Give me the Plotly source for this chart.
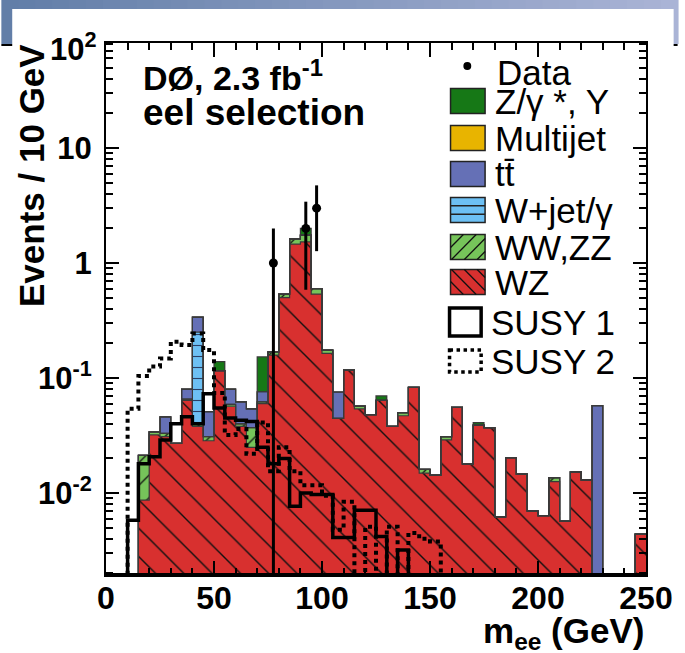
import numpy as np
import plotly.graph_objects as go

# ---------------- data (events per 5 GeV bin, 0-250 GeV) ----------------
bin_edges = np.arange(0, 255, 5)
wz = [0, 0, 0, 0.0087, 0.032, 0.031, 0.027, 0.064, 0.038, 0.0285,
      0.116, 0.057, 0.038, 0.025, 0.060, 0.158, 0.50, 1.46, 1.53, 0.537,
      0.164, 0.0446, 0.117, 0.054, 0.048, 0.064, 0.038, 0.047, 0.083, 0.0149,
      0.0143, 0.029, 0.0556, 0.0179, 0.039, 0.037, 0.0062, 0.0203, 0.0146, 0.0070,
      0.00635, 0.0126, 0.0057, 0.0153, 0.013, 0, 0, 0, 0, 0.0044]
ww_zz = [0, 0, 0, 0.0126, 0.002, 0.002, 0, 0.0015, 0.003, 0.0025,
         0, 0.002, 0.002, 0.012, 0.002, 0.011, 0.037, 0.16, 0.22, 0.063,
         0.011, 0, 0, 0.003, 0, 0, 0, 0.003, 0, 0.0012,
         0, 0.002, 0, 0, 0, 0, 0, 0, 0, 0,
         0, 0.001, 0, 0, 0, 0, 0, 0, 0, 0]
w_jet = [0, 0, 0, 0, 0, 0, 0, 0, 0.21, 0,
         0, 0, 0, 0, 0, 0, 0, 0, 0, 0,
         0, 0, 0, 0, 0, 0, 0, 0, 0, 0,
         0, 0, 0, 0, 0, 0, 0, 0, 0, 0,
         0, 0, 0, 0, 0, 0, 0, 0, 0, 0]
ttbar = [0, 0, 0, 0, 0, 0.013, 0, 0.0145, 0.087, 0.02,
         0, 0.021, 0.022, 0.017, 0.014, 0, 0, 0, 0, 0,
         0, 0.031, 0, 0, 0, 0, 0, 0, 0, 0,
         0, 0, 0, 0, 0, 0, 0, 0, 0, 0,
         0, 0, 0, 0, 0, 0.0575, 0, 0, 0, 0]
multijet = [0] * 50
z_gamma = [0, 0, 0, 0, 0, 0, 0, 0, 0, 0,
           0.023, 0, 0, 0, 0.077, 0, 0, 0, 0.25, 0,
           0, 0, 0, 0, 0, 0.006, 0, 0, 0, 0,
           0, 0, 0, 0, 0.002, 0, 0, 0, 0, 0,
           0, 0, 0, 0, 0, 0, 0, 0, 0, 0]
susy1 = [0, 0, 0.0058, 0.018, 0.0207, 0.029, 0.040, 0.046, 0.040, 0.073,
         0.055, 0.045, 0.043, 0.042, 0.025, 0.018, 0.020, 0.0077, 0.010, 0.0097,
         0.0097, 0.0041, 0.0041, 0.0071, 0.0071, 0.0042, 0, 0.0032, 0, 0,
         0, 0, 0, 0, 0, 0, 0, 0, 0, 0,
         0, 0, 0, 0, 0, 0, 0, 0, 0, 0]
susy2 = [0, 0, 0.054, 0.104, 0.126, 0.148, 0.207, 0.194, 0.244, 0.175,
         0.074, 0.032, 0.036, 0.022, 0.041, 0.0155, 0.025, 0.0155, 0.0117, 0.0117,
         0.0095, 0.0048, 0.0084, 0, 0.0051, 0, 0.0051, 0, 0.0045, 0.0040,
         0.0038, 0, 0, 0, 0, 0, 0, 0, 0, 0,
         0, 0, 0, 0, 0, 0, 0, 0, 0, 0]
data_counts = [0] * 15 + [1, 0, 0, 2, 3] + [0] * 30

x_ticks = [0, 50, 100, 150, 200, 250]
y_ticks = [0.01, 0.1, 1, 10]
y_ticktext = ["10<sup>-2</sup>", "10<sup>-1</sup>", "1", "10"]
y_min, y_max = 0.00194, 81.8

# ---------------- geometry helpers ----------------
W, H = 685, 653
ML, MR, MT, MB = 106, 32, 43, 78
PW, PH = W - ML - MR, H - MT - MB
FONT = "Liberation Sans, Arial, Helvetica, sans-serif"


def px(x):
    return (x - ML) / PW


def py(y):
    return (H - MB - y) / PH


centers = (bin_edges[:-1] + bin_edges[1:]) / 2
FLOOR = 1e-6


def step(vals):
    v = np.asarray(vals, float)
    v = np.where(v > 0, v, FLOOR)
    return list(bin_edges), list(v) + [v[-1]]


fig = go.Figure()

components = [
    ("WZ", wz, "#d8302f", "\\", 20, 0.07, "#111111"),
    ("WW,ZZ", ww_zz, "#76c45a", "/", 16, 0.08, "#111111"),
    ("W+jet/γ", w_jet, "#6dc0f4", "-", 11, 0.1, "#2a3f66"),
    ("tt", ttbar, "#6570b6", "", 10, 0.1, "#000"),
    ("Multijet", multijet, "#e8b400", "", 10, 0.1, "#000"),
    ("Z/γ*, Υ", z_gamma, "#167816", "", 10, 0.1, "#000"),
]
for name, vals, color, shape, size, sol, fg in components:
    fig.add_bar(
        x=centers, y=vals, width=5, name=name, showlegend=False, hoverinfo="skip",
        marker=dict(color=color, line=dict(width=0),
                    pattern=dict(shape=shape, fgcolor=fg, bgcolor=color, size=size,
                                 solidity=sol, fillmode="replace")),
    )

# outlines of each stacked level
cum = np.zeros(50)
for name, vals, *_ in components:
    cum = cum + np.asarray(vals, float)
    sx, sy = step(cum)
    fig.add_scatter(x=sx, y=sy, mode="lines", line=dict(color="#3a3a3a", width=1.2, shape="hv"),
                    showlegend=False, hoverinfo="skip")

sx, sy = step(susy1)
fig.add_scatter(x=sx, y=sy, mode="lines", line=dict(color="black", width=3.5, shape="hv"),
                showlegend=False, hoverinfo="skip")
sx, sy = step(susy2)
fig.add_scatter(x=sx, y=sy, mode="lines", line=dict(color="black", width=4, shape="hv", dash="dot"),
                showlegend=False, hoverinfo="skip")

dc = np.asarray(data_counts, float)
mask = dc > 0
fig.add_scatter(x=centers[mask], y=dc[mask], mode="markers",
                marker=dict(color="black", size=9),
                error_y=dict(type="data", array=np.sqrt(dc[mask]), visible=True,
                             thickness=3, width=0, color="black"),
                showlegend=False, hoverinfo="skip")

shapes = []
annotations = []

# ---- background slide decoration ----
n_strips = 40
c0 = np.array([98, 126, 168])
c1 = np.array([170, 180, 214])
for i in range(n_strips):
    f = i / (n_strips - 1)
    c = (c0 + (c1 - c0) * f).astype(int)
    shapes.append(dict(type="rect", xref="paper", yref="paper", layer="below",
                       x0=px(W * i / n_strips), x1=px(W * (i + 1) / n_strips + 1),
                       y0=py(0), y1=py(44), line=dict(width=0),
                       fillcolor=f"rgb({c[0]},{c[1]},{c[2]})"))
shapes.append(dict(type="line", xref="paper", yref="paper", layer="below",
                   x0=px(0), x1=px(W), y0=py(45), y1=py(45), line=dict(color="black", width=2)))
shapes.append(dict(type="rect", xref="paper", yref="paper", layer="below",
                   x0=px(11), x1=px(681), y0=py(9), y1=py(H + 5), line=dict(width=0),
                   fillcolor="white"))

# thick bottom axis line
shapes.append(dict(type="line", xref="paper", yref="paper", x0=0, x1=1, y0=0, y1=0,
                   line=dict(color="black", width=4)))

# ---- custom legend ----
LX0, LX1 = 455, 490
TX = 498
LFS = 35


def hatch(x0, x1, y0, y1, kind, spacing, color, width=1.2):
    w, h = x1 - x0, y1 - y0
    out = []
    if kind == "\\":
        c = -h
        while c < w:
            t0, t1 = max(0, -c), min(h, w - c)
            if t1 > t0:
                out.append(dict(type="line", xref="paper", yref="paper",
                                x0=px(x0 + c + t0), y0=py(y0 + t0),
                                x1=px(x0 + c + t1), y1=py(y0 + t1),
                                line=dict(color=color, width=width)))
            c += spacing
    elif kind == "/":
        c = 0
        while c < w + h:
            t0, t1 = max(0, c - w), min(h, c)
            if t1 > t0:
                out.append(dict(type="line", xref="paper", yref="paper",
                                x0=px(x0 + c - t0), y0=py(y0 + t0),
                                x1=px(x0 + c - t1), y1=py(y0 + t1),
                                line=dict(color=color, width=width)))
            c += spacing
    elif kind == "-":
        yy = y0 + spacing
        while yy < y1 - 1:
            out.append(dict(type="line", xref="paper", yref="paper",
                            x0=px(x0), y0=py(yy), x1=px(x1), y1=py(yy),
                            line=dict(color=color, width=width)))
            yy += spacing
    return out


legend_rows = [
    ("Z/γ *, Υ", 101, "#167816", None),
    ("Multijet", 138, "#e8b400", None),
    ("tt\u0304", 174, "#6570b6", None),
    ("W+jet/γ", 210, "#6dc0f4", "-"),
    ("WW,ZZ", 247, "#76c45a", "/"),
    ("WZ", 282, "#d8302f", "\\"),
]
for text, yc, color, kind in legend_rows:
    y0, y1 = yc - 12.5, yc + 12.5
    shapes.append(dict(type="rect", xref="paper", yref="paper", x0=px(LX0), x1=px(LX1),
                       y0=py(y0), y1=py(y1), fillcolor=color,
                       line=dict(color="#222222", width=1.5)))
    if kind == "-":
        shapes += hatch(LX0, LX1, y0, y1, "-", 25 / 3, "#222222", 1.5)
    elif kind == "/":
        shapes += hatch(LX0, LX1, y0, y1, "/", 13, "#111111", 1.3)
    elif kind == "\\":
        shapes += hatch(LX0, LX1, y0, y1, "\\", 13, "#111111", 1.3)
    annotations.append(dict(text=text, xref="paper", yref="paper", x=px(TX), y=py(yc),
                            xanchor="left", yanchor="middle", showarrow=False,
                            font=dict(family=FONT, size=LFS, color="black")))

# Data entry
shapes.append(dict(type="circle", xref="paper", yref="paper", x0=px(468), x1=px(476),
                   y0=py(62), y1=py(70), fillcolor="black", line=dict(color="black", width=0)))
annotations.append(dict(text="Data", xref="paper", yref="paper", x=px(500), y=py(72),
                        xanchor="left", yanchor="middle", showarrow=False,
                        font=dict(family=FONT, size=LFS, color="black")))
# SUSY entries
shapes.append(dict(type="rect", xref="paper", yref="paper", x0=px(LX0 - 1), x1=px(LX1 - 4),
                   y0=py(308), y1=py(336), fillcolor="white", line=dict(color="black", width=3.5)))
annotations.append(dict(text="SUSY 1", xref="paper", yref="paper", x=px(TX - 4), y=py(322),
                        xanchor="left", yanchor="middle", showarrow=False,
                        font=dict(family=FONT, size=LFS, color="black")))
shapes.append(dict(type="rect", xref="paper", yref="paper", x0=px(LX0 - 1), x1=px(LX1 - 4),
                   y0=py(350), y1=py(372), fillcolor="white",
                   line=dict(color="black", width=3.5, dash="dot")))
annotations.append(dict(text="SUSY 2", xref="paper", yref="paper", x=px(TX - 4), y=py(361),
                        xanchor="left", yanchor="middle", showarrow=False,
                        font=dict(family=FONT, size=LFS, color="black")))

# ---- titles / labels ----
annotations.append(dict(text="<b>DØ, 2.3 fb<sup>-1</sup></b>", xref="paper", yref="paper",
                        x=px(141), y=py(76), xanchor="left", yanchor="middle", showarrow=False,
                        font=dict(family=FONT, size=34, color="black")))
annotations.append(dict(text="<b>eel selection</b>", xref="paper", yref="paper",
                        x=px(141), y=py(112), xanchor="left", yanchor="middle", showarrow=False,
                        font=dict(family=FONT, size=37, color="black")))
annotations.append(dict(text="<b>Events / 10 GeV</b>", xref="paper", yref="paper",
                        x=px(30), y=py(175), xanchor="center", yanchor="middle", textangle=-90,
                        showarrow=False, font=dict(family=FONT, size=35, color="black")))
annotations.append(dict(text="<b>m<sub>ee</sub> (GeV)</b>", xref="paper", yref="paper",
                        x=px(653), y=py(633), xanchor="right", yanchor="middle", showarrow=False,
                        font=dict(family=FONT, size=35, color="black")))
annotations.append(dict(text="<b>10<sup>2</sup></b>", xref="paper", yref="paper",
                        x=px(99), y=py(47), xanchor="right", yanchor="middle", showarrow=False,
                        font=dict(family=FONT, size=31, color="black")))

fig.update_layout(
    width=W, height=H, autosize=False,
    margin=dict(l=ML, r=MR, t=MT, b=MB, pad=0),
    paper_bgcolor="white", plot_bgcolor="white",
    barmode="stack", bargap=0, showlegend=False,
    shapes=shapes, annotations=annotations,
    xaxis=dict(range=[0, 250], showgrid=False, zeroline=False,
               showline=True, linecolor="black", linewidth=2, mirror="allticks",
               ticks="inside", ticklen=14, tickwidth=1.5, tickcolor="black",
               tickmode="array", tickvals=x_ticks, ticktext=[str(t) for t in x_ticks],
               tickfont=dict(family=FONT, size=32, color="black", weight="bold"),
               ticklabelstandoff=-6,
               minor=dict(ticks="inside", ticklen=7, tickwidth=1.5, tickcolor="black",
                          dtick=10, tick0=0, showgrid=False)),
    yaxis=dict(type="log", range=[np.log10(y_min), np.log10(y_max)], showgrid=False,
               zeroline=False, showline=True, linecolor="black", linewidth=2,
               mirror="allticks", ticks="inside", ticklen=13, tickwidth=1.5,
               tickcolor="black", tickmode="array", tickvals=y_ticks, ticktext=y_ticktext,
               tickfont=dict(family=FONT, size=31, color="black", weight="bold"),
               ticklabelstandoff=6,
               minor=dict(ticks="inside", ticklen=7, tickwidth=1.5, tickcolor="black",
                          dtick="D1", showgrid=False)),
)

fig.write_html("out.html")
